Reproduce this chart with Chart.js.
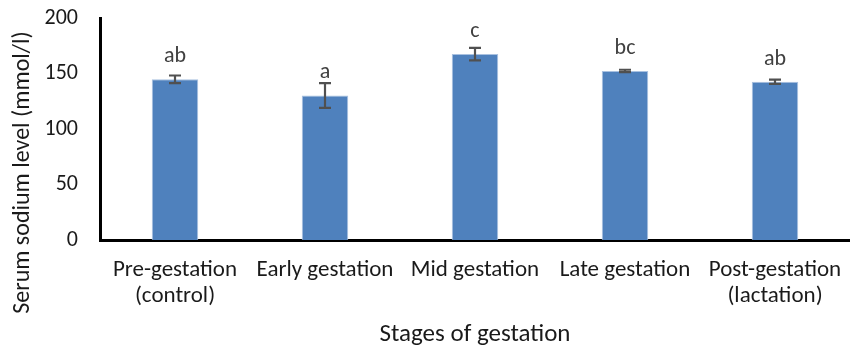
<!DOCTYPE html>
<html><head><meta charset="utf-8">
<script src="https://cdn.jsdelivr.net/npm/chart.js@4.4.1/dist/chart.umd.min.js"></script>
<style>html,body{margin:0;padding:0;background:#fff}#wrap{width:850px;height:352px}</style>
</head><body><div id="wrap"><canvas id="c" width="850" height="352"></canvas></div>
<script>
const categories = [["Pre-gestation","(control)"],"Early gestation","Mid gestation","Late gestation",["Post-gestation","(lactation)"]];
const sodiumMeans = [144.8, 130.2, 167.5, 152.3, 142.5];
const sodiumErrors = [3.4, 11.2, 5.6, 1.1, 1.9];
const groupLetters = ["ab","a","c","bc","ab"];
const yTicks = [0, 50, 100, 150, 200];

const FONT = "Carlito, Lato, 'Open Sans', sans-serif";

const errLetterPlugin = {
  id: 'errLetters',
  afterDatasetsDraw(chart) {
    const ctx = chart.ctx;
    const meta = chart.getDatasetMeta(0);
    const y = chart.scales.y;
    ctx.save();
    meta.data.forEach((bar, i) => {
      const x = bar.x;
      const v = sodiumMeans[i], e = sodiumErrors[i];
      const yt = y.getPixelForValue(v + e), yb = y.getPixelForValue(v - e);
      ctx.strokeStyle = '#505050';
      ctx.lineWidth = 2.2;
      ctx.beginPath();
      ctx.moveTo(x, yt); ctx.lineTo(x, yb);
      ctx.moveTo(x - 6, yt); ctx.lineTo(x + 6, yt);
      ctx.moveTo(x - 6, yb); ctx.lineTo(x + 6, yb);
      ctx.stroke();
      ctx.fillStyle = '#404040';
      ctx.font = "22px " + FONT;
      ctx.textAlign = 'center';
      ctx.textBaseline = 'alphabetic';
      ctx.fillText(groupLetters[i], x, y.getPixelForValue(v) - 17);
    });
    ctx.restore();
  }
};

new Chart(document.getElementById('c'), {
  type: 'bar',
  data: {
    labels: categories,
    datasets: [{
      data: sodiumMeans,
      backgroundColor: '#4f81bd',
      borderColor: '#a9c1e0',
      borderWidth: {left:1,right:1,top:1,bottom:0},
      categoryPercentage: 1,
      barPercentage: 0.31
    }]
  },
  options: {
    responsive: false,
    animation: false,
    devicePixelRatio: 1,
    layout: { padding: { top: 18, right: 0, left: 0, bottom: 0 } },
    plugins: { legend: { display: false }, tooltip: { enabled: false } },
    scales: {
      x: {
        grid: { display: false, drawTicks: true, tickLength: 17 },
        border: { display: true, color: '#000', width: 3 },
        ticks: { color: '#1a1a1a', font: { family: FONT, size: 23, lineHeight: 1.13 }, padding: 0, maxRotation: 0, autoSkip: false },
        title: { display: true, text: 'Stages of gestation', color: '#1a1a1a', font: { family: FONT, size: 25 }, padding: { top: 4, bottom: 2 } },
        afterFit(s) { s.height = 112; }
      },
      y: {
        min: 0, max: 200,
        afterBuildTicks(s) { s.ticks = yTicks.map(v => ({ value: v })); },
        grid: { display: false, drawTicks: true, tickLength: 22 },
        border: { display: true, color: '#000', width: 3 },
        ticks: { color: '#1a1a1a', font: { family: FONT, size: 22 }, padding: 0 },
        title: { display: true, text: 'Serum sodium level (mmol/l)' + '\u00A0'.repeat(16), color: '#1a1a1a', font: { family: FONT, size: 24 }, padding: { top: 9, bottom: 4 } },
        afterFit(s) { s.width = 100; }
      }
    }
  },
  plugins: [errLetterPlugin]
});
</script></body></html>
